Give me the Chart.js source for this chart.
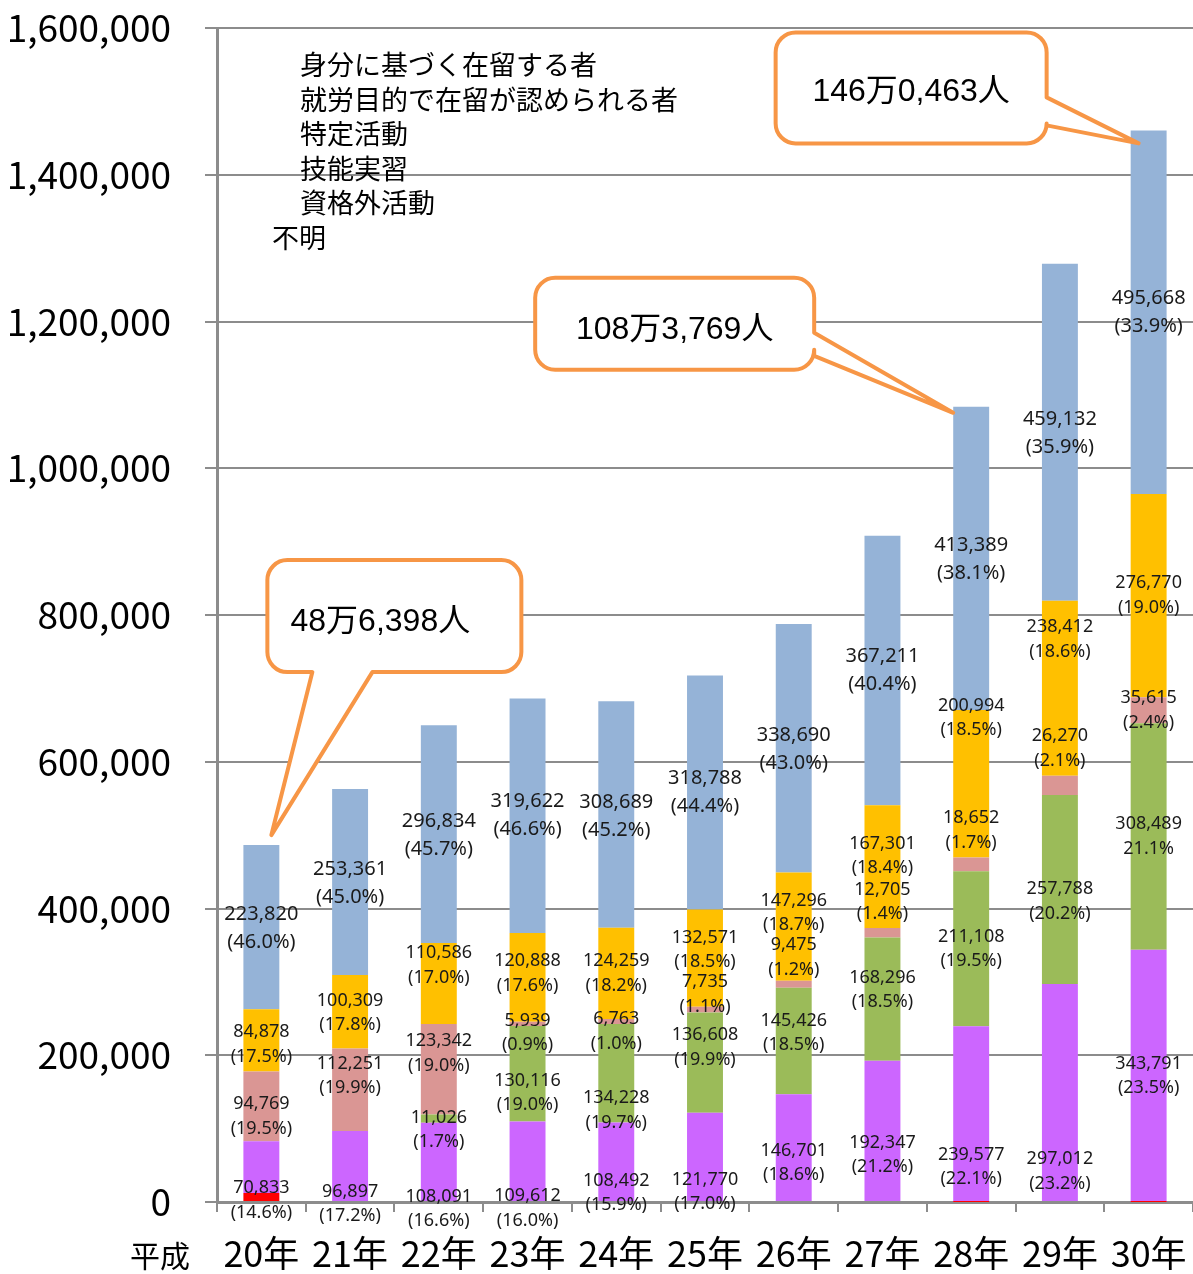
<!DOCTYPE html>
<html lang="ja">
<head>
<meta charset="utf-8">
<title>外国人労働者数の推移（在留資格別）</title>
<script src="https://cdn.jsdelivr.net/npm/chart.js@4.4.1/dist/chart.umd.min.js"></script>
<style>
  html, body { margin: 0; padding: 0; background: #fff; }
  #wrap { position: relative; width: 1193px; height: 1274px; }
</style>
</head>
<body>
<div id="wrap"><canvas id="chart"></canvas></div>
<script>
// 平成20年〜30年 在留資格別 外国人労働者数
const years = ['20年', '21年', '22年', '23年', '24年', '25年', '26年', '27年', '28年', '29年', '30年'];

const fumei      = [12098, 0, 0, 0, 0, 0, 0, 0, 49, 0, 130];
const shikakugai = [70833, 96897, 108091, 109612, 108492, 121770, 146701, 192347, 239577, 297012, 343791];
const ginou      = [null, null, 11026, 130116, 134228, 136608, 145426, 168296, 211108, 257788, 308489];
const tokutei    = [94769, 112251, 123342, 5939, 6763, 7735, 9475, 12705, 18652, 26270, 35615];
const shuro      = [84878, 100309, 110586, 120888, 124259, 132571, 147296, 167301, 200994, 238412, 276770];
const mibun      = [223820, 253361, 296834, 319622, 308689, 318788, 338690, 367211, 413389, 459132, 495668];

// 構成比ラベル
const pctShikakugai = ['(14.6%)', '(17.2%)', '(16.6%)', '(16.0%)', '(15.9%)', '(17.0%)', '(18.6%)', '(21.2%)', '(22.1%)', '(23.2%)', '(23.5%)'];
const pctGinou      = [null, null, '(1.7%)', '(19.0%)', '(19.7%)', '(19.9%)', '(18.5%)', '(18.5%)', '(19.5%)', '(20.2%)', '21.1%'];
const pctTokutei    = ['(19.5%)', '(19.9%)', '(19.0%)', '(0.9%)', '(1.0%)', '(1.1%)', '(1.2%)', '(1.4%)', '(1.7%)', '(2.1%)', '(2.4%)'];
const pctShuro      = ['(17.5%)', '(17.8%)', '(17.0%)', '(17.6%)', '(18.2%)', '(18.5%)', '(18.7%)', '(18.4%)', '(18.5%)', '(18.6%)', '(19.0%)'];
const pctMibun      = ['(46.0%)', '(45.0%)', '(45.7%)', '(46.6%)', '(45.2%)', '(44.4%)', '(43.0%)', '(40.4%)', '(38.1%)', '(35.9%)', '(33.9%)'];

const yTicks = [0, 200000, 400000, 600000, 800000, 1000000, 1200000, 1400000, 1600000];

const legendNames = ['身分に基づく在留する者', '就労目的で在留が認められる者', '特定活動', '技能実習', '資格外活動', '不明'];

const JP = '"Noto Sans CJK JP", "Noto Sans", sans-serif';
const GRID = '#8c8c8c';

// ラベルの縦位置の微調整（px、セグメント中心からのずれ）
const nudge = {
  shikakugai: [33, 38, 47, 47, 31, 35, 15, 24, 53, 79, 0],
  ginou:      [0, 0, 11, 19, 37, -15, -8, -9, 0, 12, 0],
  tokutei:    [10, -14, -16, 9, 10, -15, -27, -31, -34, -37, 0],
  shuro:      [4, 1, -18, -4, 0, -8, -14, -11, -66, -49, 0],
  mibun:      [1, 1, 1, 0, 2, 0, 1, 0, 1, 1, 0]
};

const fmt = v => v.toLocaleString('en-US');

// 合計を「48万6,398人」の形に
function manLabel(total) {
  const man = Math.floor(total / 10000);
  const rest = String(total % 10000).padStart(4, '0');
  return man + '万' + rest[0] + ',' + rest.slice(1) + '人';
}

const datasets = [
  { key: 'fumei', label: '不明', data: fumei, backgroundColor: '#ff0000' },
  { key: 'shikakugai', label: '資格外活動', data: shikakugai, backgroundColor: '#cc66ff', pct: pctShikakugai },
  { key: 'ginou', label: '技能実習', data: ginou, backgroundColor: '#9bbb59', pct: pctGinou },
  { key: 'tokutei', label: '特定活動', data: tokutei, backgroundColor: '#da9694', pct: pctTokutei },
  { key: 'shuro', label: '就労目的で在留が認められる者', data: shuro, backgroundColor: '#ffc000', pct: pctShuro },
  { key: 'mibun', label: '身分に基づく在留する者', data: mibun, backgroundColor: '#95b3d7', pct: pctMibun }
].map(d => Object.assign(d, { barPercentage: 0.405, categoryPercentage: 1, borderWidth: 0 }));

// 各セグメントの数値と構成比
const segmentLabels = {
  id: 'segmentLabels',
  afterDatasetsDraw(chart) {
    const ctx = chart.ctx;
    ctx.save();
    ctx.fillStyle = '#1a1a1a';
    ctx.textAlign = 'center';
    ctx.textBaseline = 'middle';
    chart.data.datasets.forEach((ds, di) => {
      if (!ds.pct) return;
      const big = ds.key === 'mibun';
      const size = big ? 20 : 18;
      const gap = big ? 28 : 24.5;
      ctx.font = size + 'px "Noto Sans", ' + JP;
      chart.getDatasetMeta(di).data.forEach((bar, i) => {
        const v = ds.data[i];
        if (!v) return;
        const p = bar.getProps(['x', 'y', 'base'], true);
        const cy = (p.y + p.base) / 2 + nudge[ds.key][i];
        ctx.fillText(fmt(v), p.x, cy - gap / 2);
        ctx.fillText(ds.pct[i], p.x, cy + gap / 2);
      });
    });
    ctx.restore();
  }
};

// 吹き出し（合計人数）
const callouts = [
  { index: 0,  tip: [10, -10], box: [6, -285, 254, 112], side: 'bottom', tail: [45, 105], text: [-14, 6] },
  { index: 8,  tip: [-18, 6],  box: [-436, -129, 279, 92], side: 'right', tail: [55, 78], text: [0, 6] },
  { index: 10, tip: [-10, 13], box: [-373, -98, 271, 111], side: 'right', tail: [65, 93], text: [0, 4] }
];

function calloutPath(ctx, bx, by, w, h, r, side, t1, t2, tx, ty) {
  ctx.beginPath();
  ctx.moveTo(bx + r, by);
  ctx.lineTo(bx + w - r, by);
  ctx.arcTo(bx + w, by, bx + w, by + r, r);
  if (side === 'right') {
    ctx.lineTo(bx + w, by + t1);
    ctx.lineTo(tx, ty);
    ctx.lineTo(bx + w, by + t2);
  }
  ctx.lineTo(bx + w, by + h - r);
  ctx.arcTo(bx + w, by + h, bx + w - r, by + h, r);
  if (side === 'bottom') {
    ctx.lineTo(bx + t2, by + h);
    ctx.lineTo(tx, ty);
    ctx.lineTo(bx + t1, by + h);
  }
  ctx.lineTo(bx + r, by + h);
  ctx.arcTo(bx, by + h, bx, by + h - r, r);
  ctx.lineTo(bx, by + r);
  ctx.arcTo(bx, by, bx + r, by, r);
  ctx.closePath();
}

const totalCallouts = {
  id: 'totalCallouts',
  afterDraw(chart) {
    const ctx = chart.ctx;
    const top = chart.data.datasets.length - 1;
    ctx.save();
    callouts.forEach(c => {
      const bar = chart.getDatasetMeta(top).data[c.index].getProps(['x', 'y'], true);
      const total = chart.data.datasets.reduce((s, ds) => s + (ds.data[c.index] || 0), 0);
      const bx = bar.x + c.box[0], by = bar.y + c.box[1];
      const w = c.box[2], h = c.box[3];
      calloutPath(ctx, bx, by, w, h, 20, c.side, c.tail[0], c.tail[1], bar.x + c.tip[0], bar.y + c.tip[1]);
      ctx.fillStyle = '#ffffff';
      ctx.fill();
      ctx.lineWidth = 4;
      ctx.lineJoin = 'round';
      ctx.strokeStyle = '#f79646';
      ctx.stroke();
      ctx.fillStyle = '#000';
      ctx.font = '32px "Liberation Sans", ' + JP;
      ctx.textAlign = 'center';
      ctx.textBaseline = 'middle';
      ctx.fillText(manLabel(total), bx + w / 2 + c.text[0], by + h / 2 + c.text[1]);
    });
    ctx.restore();
  }
};

// 凡例テキストと「平成」
const legendText = {
  id: 'legendText',
  afterDraw(chart) {
    const ctx = chart.ctx;
    ctx.save();
    ctx.fillStyle = '#000';
    ctx.textBaseline = 'middle';
    ctx.textAlign = 'left';
    ctx.font = '27px ' + JP;
    legendNames.forEach((name, i) => {
      const x = i === legendNames.length - 1 ? 272 : 300;
      ctx.fillText(name, x, 65 + i * 34.5);
    });
    ctx.font = '30px ' + JP;
    ctx.textAlign = 'center';
    ctx.fillText('平成', 160, 1256);
    ctx.restore();
  }
};

new Chart(document.getElementById('chart'), {
  type: 'bar',
  data: { labels: years, datasets },
  options: {
    responsive: true,
    maintainAspectRatio: false,
    animation: false,
    layout: { padding: { top: 28, right: 0, left: 0, bottom: 0 } },
    plugins: {
      legend: { display: false },
      tooltip: { enabled: false }
    },
    scales: {
      x: {
        stacked: true,
        afterFit: s => { s.height = 72; s.paddingLeft = 0; s.paddingRight = 0; },
        grid: { drawOnChartArea: false, drawTicks: true, tickLength: 10, color: GRID, lineWidth: 2 },
        border: { color: GRID, width: 3 },
        ticks: { color: '#000', font: { family: JP, size: 36 }, padding: 20, maxRotation: 0 }
      },
      y: {
        stacked: true,
        min: 0,
        max: 1600000,
        afterFit: s => { s.width = 217; s.paddingTop = 0; s.paddingBottom = 0; },
        afterBuildTicks: s => { s.ticks = yTicks.map(v => ({ value: v })); },
        grid: { color: GRID, lineWidth: 2, tickLength: 12 },
        border: { color: GRID, width: 3 },
        ticks: { color: '#000', font: { family: JP, size: 37 }, padding: 34, callback: v => fmt(v) }
      }
    }
  },
  plugins: [segmentLabels, totalCallouts, legendText]
});
</script>
</body>
</html>
